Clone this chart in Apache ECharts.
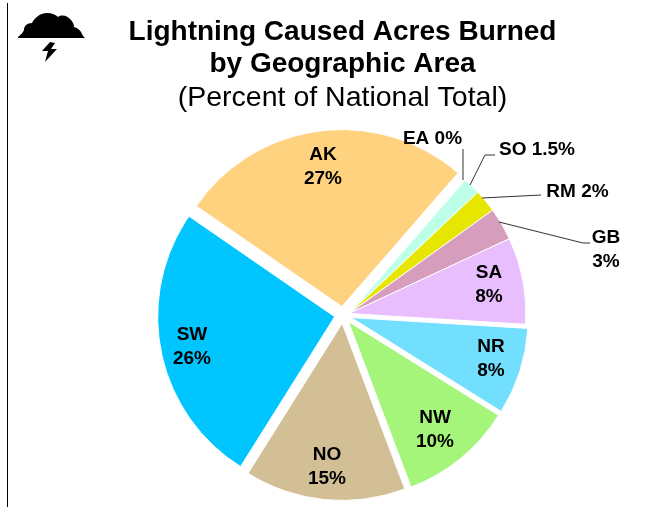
<!DOCTYPE html>
<html>
<head>
<meta charset="utf-8">
<style>
  html, body { margin: 0; padding: 0; background: #fff; }
  #main { width: 660px; height: 507px; }
</style>
<script src="https://cdn.jsdelivr.net/npm/echarts@6/dist/echarts.min.js"></script>
</head>
<body>
<div id="main"></div>
<script>
// clockwise from the top right
const areas = ['EA', 'SO', 'RM', 'GB', 'SA', 'NR', 'NW', 'NO', 'SW', 'AK'];
const percents = [0, 1.6, 2.1, 3, 7.95, 7.95, 10.4, 14.75, 25.8, 26.9];
const percentLabels = ['0%', '1.5%', '2%', '3%', '8%', '8%', '10%', '15%', '26%', '27%'];
const colors = ['#F0F0F0', '#BEFFE8', '#E6E600', '#D69DBC', '#E8BEFF', '#73DFFF', '#A5F57A', '#D3BF96', '#00C5FF', '#FFD280'];
const exploded = ['NR', 'NW', 'NO', 'SW', 'AK'];
const titleLines = ['Lightning Caused Acres Burned', 'by Geographic Area', '(Percent of National Total)'];

const FONT = '"Liberation Sans", Arial, sans-serif';

// where the labels of the big slices sit
const insideLabels = {
  SA: [489, 285],
  NR: [491, 358.5],
  NW: [435, 429.5],
  NO: [327, 466.5],
  SW: [192, 346.5],
  AK: [323, 166.5]
};

// the thin slices have their label out with a leader line
const outsideLabels = {
  EA: { text: 'EA 0%', x: 432.5, y: 139, line: [[463, 180], [463, 149]] },
  SO: { text: 'SO 1.5%', x: 537, y: 150, line: [[470, 185], [485, 155], [495, 155]] },
  RM: { text: 'RM 2%', x: 577.5, y: 192, line: [[482, 198], [541, 195]] },
  GB: { text: 'GB\n3%', x: 606, y: 250, line: [[499, 222], [583, 243], [590, 243]] }
};

echarts.graphic.registerShape('cloud', echarts.graphic.extendPath('M18 37 C20 35 23 33 24 30 C24 26 27 23 32 23 C35 17 41 13 47 13 C52 13 56 15 58 17 C62 14 68 16 71 20 C73 22 74 25 74 27 C78 28 81 31 82 34 C83 36 84 37 85 38 L18 38 Z', {}));
echarts.graphic.registerShape('bolt', echarts.graphic.extendPath('M50 42 L42 51 L48 51 L45 62 L57 49 L51 49 L55 43 Z', {}));

// one pie per group, the other group's slices stay as empty room.
// labels all hang on the unselected pie, selected ones ignore labelLayout
function sliceData(inGroup, withLabels) {
  return areas.map(function (name, i) {
    const shown = inGroup(name);
    return {
      name: name,
      value: percents[i],
      selected: shown && exploded.indexOf(name) >= 0,
      itemStyle: shown
        ? { color: colors[i], borderColor: '#fff', borderWidth: 1 }
        : { color: 'transparent', borderWidth: 0 },
      label: {
        show: withLabels && !!insideLabels[name],
        position: 'inside',
        formatter: name + '\n' + percentLabels[i]
      },
      labelLine: { show: false }
    };
  });
}

function placeLabel(params) {
  const pos = insideLabels[areas[params.dataIndex]];
  if (!pos) return {};
  return { x: pos[0], y: pos[1], align: 'center', verticalAlign: 'middle' };
}

const pieBase = {
  type: 'pie',
  radius: [0, 177],
  startAngle: 49,
  clockwise: true,
  silent: true,
  avoidLabelOverlap: false,
  minShowLabelAngle: 0,
  label: {
    color: '#000',
    fontFamily: FONT,
    fontWeight: 'bold',
    fontSize: 19,
    lineHeight: 24
  },
  labelLayout: placeLabel
};

const chart = echarts.init(document.getElementById('main'), null, { renderer: 'canvas' });

const textGraphics = titleLines.map(function (line, i) {
  return {
    type: 'text',
    z: 20,
    style: {
      text: line,
      x: 342.5,
      y: [32, 64, 98][i],
      align: 'center',
      verticalAlign: 'middle',
      font: (i < 2 ? 'bold 28px ' : '28.5px ') + FONT,
      fill: '#000'
    }
  };
});

const leaderGraphics = [];
Object.keys(outsideLabels).forEach(function (key) {
  const o = outsideLabels[key];
  leaderGraphics.push({
    type: 'text',
    z: 20,
    style: {
      text: o.text,
      x: o.x,
      y: o.y,
      align: 'center',
      verticalAlign: 'middle',
      font: 'bold 19px ' + FONT,
      lineHeight: 24,
      fill: '#000'
    }
  });
  leaderGraphics.push({
    type: 'polyline',
    z: 20,
    shape: { points: o.line },
    style: { stroke: '#333', lineWidth: 1, fill: null }
  });
});

chart.setOption({
  animation: false,
  backgroundColor: '#fff',
  series: [
    // z keeps the lifted selected slices under the labels of the other pie
    Object.assign({}, pieBase, {
      z: 1,
      center: [343, 315],
      selectedMode: 'multiple',
      selectedOffset: 8.5,
      data: sliceData(function (name) { return exploded.indexOf(name) >= 0; }, false)
    }),
    Object.assign({}, pieBase, {
      z: 5,
      center: [349, 313.5],
      data: sliceData(function (name) { return exploded.indexOf(name) < 0; }, true)
    })
  ],
  graphic: [
    // frame line down the left side
    { type: 'line', shape: { x1: 7.5, y1: 3, x2: 7.5, y2: 507 }, style: { stroke: '#000', lineWidth: 1 } },
    // storm cloud
    { type: 'cloud', style: { fill: '#000' } },
    { type: 'bolt', style: { fill: '#000' } }
  ].concat(textGraphics, leaderGraphics)
});
</script>
</body>
</html>
